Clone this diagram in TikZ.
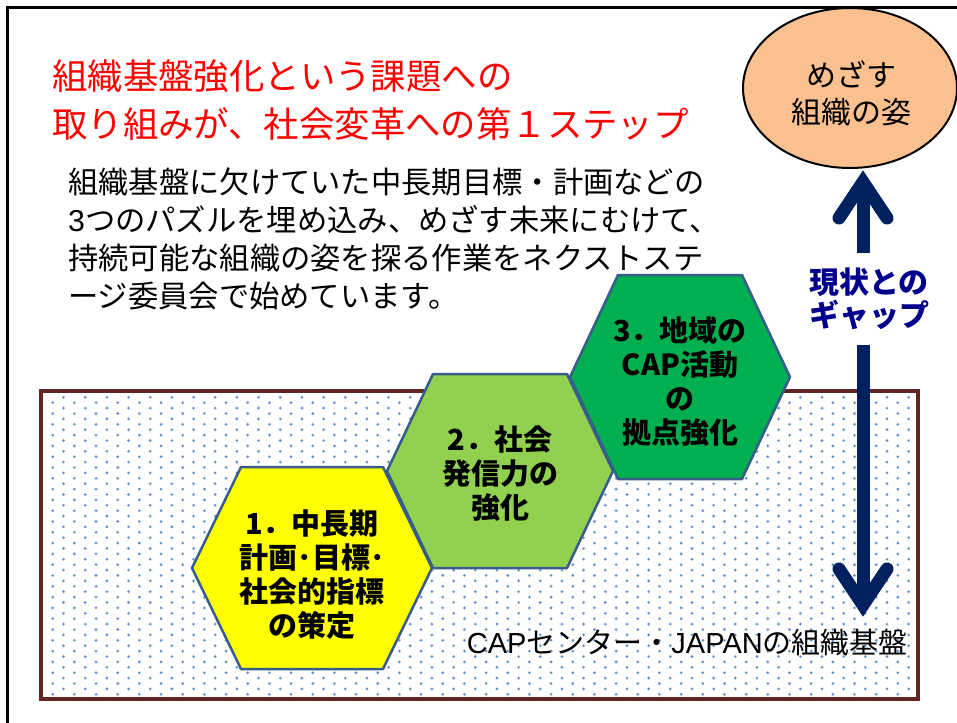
\documentclass[tikz,border=0pt]{standalone}
\usepackage{fontspec}
\usetikzlibrary{shapes.geometric}
\newfontfamily\jp{Noto Sans CJK JP}
\newfontfamily\lat{Liberation Sans}
\definecolor{brd}{RGB}{99,37,35}
\definecolor{dotc}{RGB}{74,126,194}
\definecolor{doth}{RGB}{185,208,236}
\definecolor{hexline}{RGB}{56,93,138}
\definecolor{hexA}{RGB}{255,255,0}
\definecolor{hexB}{RGB}{146,208,80}
\definecolor{hexC}{RGB}{0,176,80}
\definecolor{goalfill}{RGB}{250,192,144}
\definecolor{navy}{RGB}{0,32,96}
\definecolor{gapblue}{RGB}{0,0,140}
\begin{document}
\begin{tikzpicture}[x=1pt,y=-1pt,
  hexbox/.style={draw=hexline,line width=2.5pt,line join=round},
  hextext/.style={align=center,inner sep=0pt,font={\jp\bfseries\fontsize{29}{34}\selectfont}},
  arrowline/.style={navy,line width=13pt},
  chevron/.style={navy,line width=13pt,line cap=round,line join=miter}]
\useasboundingbox (0,0) rectangle (957,722);
\begin{scope}
\clip (0,0) rectangle (957,722);
\fill[white] (0,0) rectangle (957,722);
% outer frame
\draw[line width=3.5pt] (7.5,7.5) rectangle (990,760);
% dotted base
\begin{scope}
\clip (41,391) rectangle (918,699);
\foreach \r in {0,...,57} {
  \pgfmathsetmacro{\yy}{397.3+5.4*\r}
  \pgfmathsetmacro{\xo}{52.7+10.83*mod(\r+1,2)}
  \foreach \c in {0,...,41} {
    \fill[doth] ({\xo+21.67*\c},\yy) circle (1.8pt);
    \fill[dotc] ({\xo+21.67*\c},\yy) circle (1.05pt);
  }
}
\end{scope}
\draw[brd,line width=4pt] (41,391) rectangle (918,699);
\node[anchor=east,inner sep=0pt,font={\jp\fontsize{29}{34}\selectfont}] (base) at (908,643) {{\lat CAP}センター・{\lat JAPAN}の組織基盤};
% hexagons
\filldraw[hexbox,fill=hexA] (192,568) -- (241,467) -- (383,467) -- (432,568) -- (383,669) -- (241,669) -- cycle;
\filldraw[hexbox,fill=hexB] (387,471) -- (433,374) -- (567,374) -- (613,471) -- (567,568) -- (433,568) -- cycle;
\filldraw[hexbox,fill=hexC] (570,377) -- (618,275) -- (742,275) -- (790,377) -- (742,479) -- (618,479) -- cycle;
\node[hextext] (h1) at (312,575) {1．中長期\\計画･目標･\\社会的指標\\の策定};
\node[hextext] (h2) at (500,474) {2．社会\\発信力の\\強化};
\node[hextext] (h3) at (680,382) {3．地域の\\CAP活動\\の\\拠点強化};
% title and body
\node[anchor=west,align=left,inner sep=0pt,text=red,font={\jp\fontsize{35.4}{48}\selectfont}] (title) at (52,100)
  {組織基盤強化という課題への\\取り組みが、社会変革への第１ステップ};
\node[anchor=west,align=left,inner sep=0pt,font={\jp\fontsize{30.3}{38}\selectfont}] (body) at (68,239)
  {組織基盤に欠けていた中長期目標・計画などの\\{\lat 3}つのパズルを埋め込み、めざす未来にむけて、\\持続可能な組織の姿を探る作業をネクストステ\\ージ委員会で始めています。};
% goal ellipse
\node[draw,line width=2pt,ellipse,fill=goalfill,minimum width=214pt,minimum height=160pt,inner sep=0pt] (goal) at (850,88) {};
\node[align=center,inner sep=0pt,font={\jp\fontsize{30}{37}\selectfont}] (goaltext) at (851,93.5) {めざす\\組織の姿};
% gap arrow
\coordinate (upTip) at (863,182);
\coordinate (dnTip) at (863,605);
\node[align=center,inner sep=0pt,text=gapblue,font={\jp\bfseries\fontsize{30}{33}\selectfont}] (gap) at (869,299) {現状との\\ギャップ};
\draw[arrowline] (upTip) -- ++(0,71);
\draw[arrowline] (dnTip) -- ++(0,-260);
\draw[chevron] ([shift={(-24,36)}]upTip) -- (upTip) -- ([shift={(24,36)}]upTip);
\draw[chevron] ([shift={(-24,-36)}]dnTip) -- (dnTip) -- ([shift={(24,-36)}]dnTip);
\end{scope}
\end{tikzpicture}
\end{document}
